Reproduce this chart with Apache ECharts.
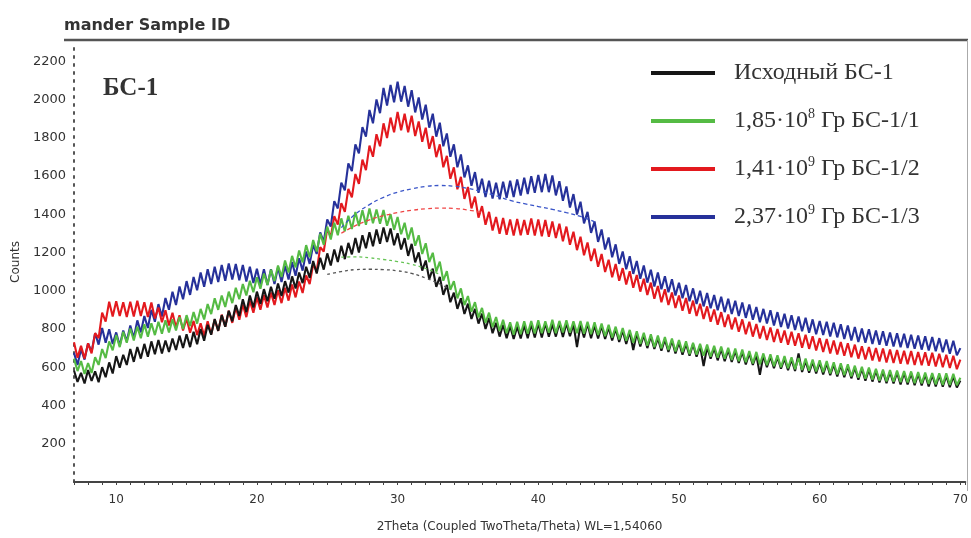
<!DOCTYPE html>
<html>
<head>
<meta charset="utf-8">
<script src="https://cdn.jsdelivr.net/npm/echarts@6/dist/echarts.min.js"></script>
<style>
  html, body { margin: 0; padding: 0; background: #fff; }
  #main { width: 971px; height: 538px; }
</style>
</head>
<body>
<div id="main"></div>
<script>
// шаг сканирования 2Theta
var angleStart = 7;
var angleStep = 0.25;

var seriesNames = ['Исходный БС-1', '1,85·10⁸ Гр БС-1/1', '1,41·10⁹ Гр БС-1/2', '2,37·10⁹ Гр БС-1/3'];
var seriesColors = ['#161616', '#55bb44', '#e3191e', '#26319a'];

// Исходный БС-1
var blackCounts = [
    583, 523, 570, 515, 585, 528, 578, 522,
    600, 548, 625, 567, 658, 598, 665, 612,
    695, 628, 706, 645, 722, 655, 735, 668,
    742, 672, 740, 680, 750, 690, 765, 700,
    772, 705, 785, 720, 800, 738, 822, 770,
    852, 790, 872, 812, 895, 840, 925, 868,
    955, 888, 975, 912, 995, 930, 1008, 945,
    1020, 958, 1038, 972, 1050, 990, 1075, 1012,
    1095, 1040, 1125, 1068, 1155, 1090, 1172, 1110,
    1195, 1132, 1215, 1150, 1235, 1165, 1250, 1190,
    1275, 1200, 1290, 1222, 1305, 1232, 1320, 1245,
    1330, 1255, 1325, 1238, 1300, 1215, 1275, 1182,
    1245, 1148, 1200, 1105, 1158, 1060, 1115, 1020,
    1072, 978, 1030, 940, 990, 905, 960, 878,
    932, 852, 905, 828, 880, 800, 858, 778,
    832, 760, 822, 752, 815, 748, 812, 750,
    820, 752, 825, 755, 828, 755, 830, 760,
    825, 760, 832, 758, 830, 762, 825, 705,
    822, 755, 828, 752, 818, 750, 815, 748,
    808, 740, 800, 732, 792, 722, 785, 690,
    778, 708, 768, 700, 762, 695, 752, 686,
    745, 680, 740, 672, 730, 665, 722, 660,
    720, 655, 712, 606, 705, 645, 700, 636,
    695, 632, 690, 628, 685, 622, 680, 615,
    672, 612, 665, 560, 662, 600, 655, 595,
    652, 592, 645, 585, 640, 580, 672, 575,
    632, 572, 628, 568, 625, 562, 620, 558,
    615, 552, 610, 548, 605, 542, 598, 535,
    592, 530, 588, 525, 582, 520, 578, 516,
    575, 515, 572, 510, 570, 510, 568, 506,
    565, 505, 562, 500, 560, 500, 558, 498,
    556, 496, 552, 494,
    530
];

// 1,85·10^8 Гр БС-1/1
var greenCounts = [
    645, 580, 632, 565, 622, 570, 652, 612,
    695, 648, 735, 688, 768, 705, 785, 728,
    802, 740, 812, 752, 825, 760, 830, 768,
    838, 775, 845, 782, 850, 792, 862, 800,
    872, 815, 888, 828, 905, 850, 930, 878,
    960, 900, 975, 915, 995, 935, 1015, 955,
    1035, 975, 1052, 992, 1070, 1010, 1090, 1030,
    1110, 1050, 1132, 1072, 1158, 1095, 1182, 1122,
    1210, 1148, 1238, 1175, 1265, 1205, 1298, 1240,
    1335, 1268, 1355, 1290, 1378, 1310, 1392, 1322,
    1412, 1338, 1420, 1345, 1430, 1352, 1425, 1350,
    1422, 1340, 1400, 1318, 1385, 1295, 1355, 1268,
    1330, 1235, 1290, 1192, 1248, 1150, 1198, 1100,
    1152, 1052, 1102, 1005, 1050, 960, 1012, 925,
    972, 890, 940, 860, 910, 832, 885, 810,
    862, 790, 848, 778, 835, 770, 838, 772,
    840, 775, 842, 776, 845, 778, 840, 780,
    848, 778, 842, 782, 845, 780, 840, 778,
    842, 775, 838, 772, 835, 768, 828, 762,
    822, 755, 812, 745, 805, 738, 795, 728,
    788, 722, 780, 712, 772, 705, 765, 698,
    758, 690, 750, 682, 742, 678, 735, 668,
    728, 665, 722, 660, 718, 655, 712, 650,
    708, 645, 702, 638, 698, 632, 692, 626,
    685, 620, 680, 615, 672, 610, 668, 605,
    662, 600, 658, 595, 652, 590, 648, 586,
    645, 582, 640, 578, 636, 574, 632, 568,
    626, 562, 620, 558, 615, 552, 608, 545,
    602, 540, 598, 535, 592, 530, 588, 526,
    585, 524, 582, 522, 580, 520, 578, 516,
    575, 515, 572, 512, 570, 510, 568, 508,
    568, 508, 566, 506,
    545
];

// 1,41·10^9 Гр БС-1/2
var redCounts = [
    730, 650, 712, 645, 725, 672, 778, 752,
    885, 838, 942, 865, 945, 868, 940, 862,
    942, 865, 948, 868, 940, 862, 938, 855,
    912, 835, 898, 818, 885, 808, 872, 792,
    855, 780, 842, 768, 830, 765, 840, 772,
    850, 790, 875, 812, 895, 832, 912, 848,
    928, 862, 948, 885, 965, 900, 978, 912,
    990, 925, 1002, 935, 1015, 948, 1032, 965,
    1048, 988, 1080, 1035, 1138, 1102, 1228, 1205,
    1325, 1280, 1390, 1345, 1458, 1412, 1532, 1488,
    1610, 1558, 1685, 1630, 1758, 1700, 1818, 1755,
    1875, 1798, 1905, 1828, 1935, 1838, 1925, 1828,
    1915, 1808, 1885, 1778, 1852, 1742, 1808, 1698,
    1765, 1645, 1705, 1585, 1645, 1530, 1595, 1480,
    1542, 1430, 1492, 1382, 1442, 1345, 1412, 1315,
    1385, 1298, 1380, 1292, 1372, 1288, 1375, 1290,
    1370, 1292, 1378, 1288, 1372, 1285, 1370, 1282,
    1362, 1275, 1350, 1258, 1335, 1240, 1308, 1212,
    1282, 1185, 1252, 1155, 1220, 1125, 1192, 1098,
    1162, 1070, 1140, 1052, 1118, 1032, 1102, 1015,
    1082, 995, 1062, 978, 1042, 958, 1025, 940,
    1008, 925, 990, 910, 975, 895, 962, 880,
    948, 868, 932, 852, 918, 838, 902, 822,
    888, 810, 875, 798, 860, 785, 850, 772,
    838, 760, 826, 750, 815, 742, 808, 732,
    800, 728, 792, 718, 785, 712, 778, 702,
    770, 696, 762, 688, 752, 680, 748, 672,
    740, 666, 732, 660, 725, 652, 718, 645,
    710, 640, 706, 635, 700, 630, 698, 625,
    692, 622, 690, 618, 686, 616, 685, 612,
    680, 610, 678, 608, 675, 604, 670, 600,
    665, 596, 660, 590,
    640
];

// 2,37·10^9 Гр БС-1/3
var blueCounts = [
    675, 612, 695, 640, 725, 680, 778, 718,
    805, 728, 798, 722, 782, 712, 792, 735,
    818, 752, 845, 782, 868, 805, 900, 838,
    930, 865, 962, 900, 995, 925, 1022, 955,
    1050, 978, 1072, 1002, 1095, 1020, 1112, 1035,
    1125, 1045, 1135, 1052, 1142, 1058, 1140, 1055,
    1135, 1048, 1125, 1040, 1115, 1032, 1112, 1030,
    1112, 1035, 1122, 1045, 1130, 1058, 1150, 1078,
    1170, 1105, 1205, 1140, 1240, 1192, 1305, 1255,
    1372, 1335, 1468, 1430, 1565, 1525, 1665, 1625,
    1765, 1718, 1855, 1805, 1945, 1875, 2000, 1928,
    2060, 1968, 2075, 1985, 2092, 1988, 2070, 1962,
    2048, 1932, 2010, 1895, 1972, 1852, 1925, 1805,
    1878, 1755, 1822, 1700, 1765, 1645, 1712, 1592,
    1655, 1548, 1620, 1512, 1585, 1490, 1575, 1482,
    1565, 1478, 1570, 1485, 1575, 1490, 1582, 1498,
    1590, 1505, 1598, 1512, 1605, 1515, 1610, 1515,
    1602, 1498, 1572, 1470, 1545, 1435, 1505, 1398,
    1465, 1352, 1412, 1302, 1362, 1255, 1320, 1215,
    1278, 1175, 1242, 1140, 1205, 1112, 1180, 1088,
    1155, 1062, 1132, 1042, 1110, 1022, 1095, 1008,
    1075, 992, 1060, 975, 1042, 960, 1030, 945,
    1012, 930, 1000, 918, 988, 908, 978, 898,
    968, 888, 958, 878, 948, 868, 938, 858,
    928, 848, 915, 835, 905, 828, 898, 818,
    888, 810, 880, 802, 872, 795, 865, 788,
    858, 780, 850, 772, 842, 768, 838, 760,
    832, 756, 825, 748, 818, 740, 810, 732,
    802, 728, 798, 722, 792, 718, 788, 712,
    782, 708, 778, 705, 775, 700, 770, 696,
    766, 692, 762, 688, 758, 684, 752, 678,
    745, 670, 738, 662,
    700
];

// аморфные гало (пунктир)
var blackFitX = [25, 26, 27, 28, 29, 30, 31, 32, 33, 33.6];
var blackFitY = [1085, 1100, 1110, 1112, 1110, 1104, 1090, 1066, 1035, 1012];
var greenFitX = [26, 27, 28, 29, 30, 31, 32, 33];
var greenFitY = [1175, 1177, 1172, 1163, 1152, 1138, 1116, 1085];
var redFitX = [26, 27, 28, 29, 30, 31, 32, 33, 34, 35, 36];
var redFitY = [1300, 1340, 1370, 1392, 1408, 1420, 1428, 1432, 1430, 1422, 1408];
var blueFitX = [26, 27, 28, 29, 30, 31, 32, 33, 34, 35, 36, 37, 38, 39, 40, 41, 42, 43, 44];
var blueFitY = [1330, 1400, 1450, 1488, 1515, 1532, 1545, 1550, 1546, 1535, 1518, 1496, 1472, 1455, 1440, 1425, 1408, 1388, 1360];

var yTicks = [200, 400, 600, 800, 1000, 1200, 1400, 1600, 1800, 2000, 2200];
var xTicks = [10, 20, 30, 40, 50, 60, 70];

function toPairs(counts) {
    return counts.map(function (v, i) {
        return [angleStart + i * angleStep, v];
    });
}

function zipPairs(xs, ys) {
    return xs.map(function (x, i) {
        return [x, ys[i]];
    });
}

var chart = echarts.init(document.getElementById('main'));

function dataSeries(name, color, counts, z) {
    return {
        name: name,
        type: 'line',
        data: toPairs(counts),
        symbol: 'none',
        z: z,
        lineStyle: { color: color, width: 2.1 },
        itemStyle: { color: color }
    };
}

function fitSeries(color, xs, ys, dash) {
    return {
        type: 'line',
        data: zipPairs(xs, ys),
        symbol: 'none',
        smooth: true,
        z: 10,
        lineStyle: { color: color, width: 1.3, type: dash }
    };
}

var option = {
    animation: false,
    backgroundColor: '#fff',
    grid: { left: 74, right: 4, top: 42, bottom: 51 },
    legend: {
        data: seriesNames,
        orient: 'vertical',
        left: 651,
        top: 61,
        padding: 0,
        itemGap: 22,
        itemWidth: 64,
        itemHeight: 4,
        icon: 'rect',
        formatter: function (name) {
            return '{n|' + name.replace(/[⁸⁹]/, function (c) {
                return '}{s|' + (c === '⁸' ? '8' : '9') + '}{n|';
            }) + '}';
        },
        textStyle: {
            padding: [0, 0, 0, 14],
            rich: {
                n: { fontFamily: 'Liberation Serif', fontSize: 24, lineHeight: 28, color: '#333' },
                s: { fontFamily: 'Liberation Serif', fontSize: 14, lineHeight: 19, verticalAlign: 'top', color: '#333' }
            }
        }
    },
    xAxis: {
        type: 'value',
        min: 7,
        max: 70.35,
        interval: 1,
        offset: 4,
        name: '2Theta (Coupled TwoTheta/Theta) WL=1,54060',
        nameLocation: 'middle',
        nameGap: 35,
        nameTextStyle: { fontFamily: 'DejaVu Sans', fontSize: 12, color: '#333' },
        axisLine: { lineStyle: { color: '#444', width: 2 } },
        axisTick: { length: 3, lineStyle: { color: '#444' } },
        axisLabel: {
            interval: 0,
            fontFamily: 'DejaVu Sans',
            fontSize: 12,
            color: '#333',
            margin: 8,
            formatter: function (v) {
                return xTicks.indexOf(v) >= 0 ? String(v) : '';
            }
        },
        splitLine: { show: false }
    },
    yAxis: {
        type: 'value',
        min: 0,
        max: 2300,
        interval: 200,
        name: 'Counts',
        nameLocation: 'middle',
        nameGap: 52,
        nameTextStyle: { fontFamily: 'DejaVu Sans', fontSize: 12, color: '#333' },
        axisLine: { show: true, lineStyle: { color: '#555', width: 2, type: [2, 6] } },
        axisTick: { show: false },
        axisLabel: {
            fontFamily: 'DejaVu Sans',
            fontSize: 13,
            color: '#333',
            margin: 8,
            formatter: function (v) {
                return yTicks.indexOf(v) >= 0 ? String(v) : '';
            }
        },
        splitLine: { show: false }
    },
    graphic: [
        {
            type: 'text', left: 64, top: 18,
            style: { text: 'mander Sample ID', font: 'bold 16px "DejaVu Sans"', fill: '#333' }
        },
        {
            type: 'line',
            shape: { x1: 64, y1: 40, x2: 968, y2: 40 },
            style: { stroke: '#555', lineWidth: 2.5 }
        },
        {
            type: 'line',
            shape: { x1: 967.5, y1: 40, x2: 967.5, y2: 491 },
            style: { stroke: '#aaa', lineWidth: 1 }
        },
        {
            type: 'text', left: 103, top: 76,
            style: { text: 'БС-1', font: 'bold 25px "Liberation Serif"', fill: '#333' }
        }
    ],
    series: [
        dataSeries(seriesNames[3], seriesColors[3], blueCounts, 2),
        dataSeries(seriesNames[2], seriesColors[2], redCounts, 3),
        dataSeries(seriesNames[0], seriesColors[0], blackCounts, 4),
        dataSeries(seriesNames[1], seriesColors[1], greenCounts, 5),
        fitSeries('#3a55c8', blueFitX, blueFitY, [4, 3]),
        fitSeries('#f04545', redFitX, redFitY, [4, 3]),
        fitSeries('#66c455', greenFitX, greenFitY, [3, 3]),
        fitSeries('#555', blackFitX, blackFitY, [3, 3])
    ]
};

chart.setOption(option);
</script>
</body>
</html>
